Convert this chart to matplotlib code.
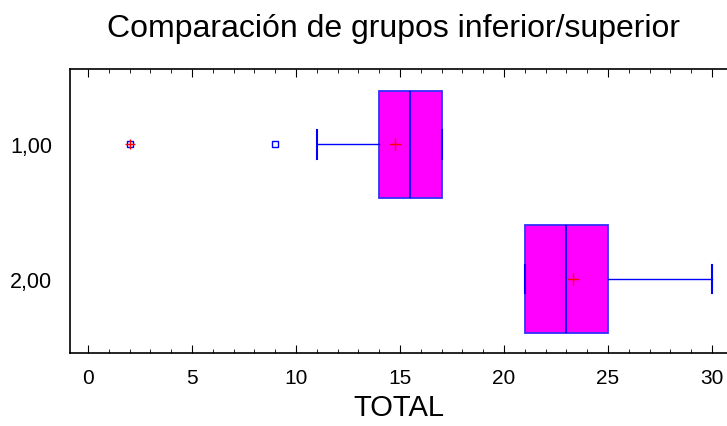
import matplotlib.pyplot as plt
from matplotlib.ticker import MultipleLocator

# box plot summary
groups = ["1,00", "2,00"]
q1 = [14, 21]
medians = [15.5, 23]
q3 = [17, 25]
whisker_lo = [11, 21]
whisker_hi = [17, 30]
means = [14.75, 23.3]
outliers = [[9, 2], []]
far_outliers = [[2], []]

plt.rcParams["font.family"] = ["Liberation Sans", "DejaVu Sans"]

fig = plt.figure(figsize=(7.27, 4.27), dpi=100)
ax = fig.add_axes([70 / 727, 1 - 354 / 427, 657 / 727, 284 / 427])

stats = []
for i, name in enumerate(groups):
    stats.append({
        "label": name,
        "q1": q1[i],
        "med": medians[i],
        "q3": q3[i],
        "whislo": whisker_lo[i],
        "whishi": whisker_hi[i],
        "mean": means[i],
        "fliers": outliers[i],
    })

positions = list(range(1, len(groups) + 1))
ax.bxp(
    stats,
    positions=positions,
    widths=0.8,
    capwidths=0.21,
    orientation="horizontal",
    patch_artist=True,
    showmeans=True,
    boxprops=dict(facecolor="#ff00ff", edgecolor="#3030ff", linewidth=1.3),
    medianprops=dict(color="#0000ff", linewidth=1.3),
    whiskerprops=dict(color="#0000ff", linewidth=1.0),
    capprops=dict(color="#0000ff", linewidth=1.5),
    meanprops=dict(marker="+", markeredgecolor="red", markersize=8, markeredgewidth=1),
    flierprops=dict(marker="s", markerfacecolor="none", markeredgecolor="#0000ff",
                    markersize=5, markeredgewidth=1),
)

# far outliers carry a red plus inside the square
for pos, vals in zip(positions, far_outliers):
    if vals:
        ax.plot(vals, [pos] * len(vals), linestyle="none", marker="+",
                markeredgecolor="red", markersize=7, markeredgewidth=1)

ax.set_xlim(-0.87, 30.72)
ax.set_ylim(2.55, 0.44)
ax.set_yticks(positions)
ax.set_yticklabels(groups)

ax.xaxis.set_major_locator(MultipleLocator(5))
ax.xaxis.set_minor_locator(MultipleLocator(1))
ax.tick_params(axis="x", which="both", direction="in", top=True, labelsize=15, pad=11)
ax.tick_params(axis="x", which="major", length=6)
ax.tick_params(axis="x", which="minor", length=3)
ax.tick_params(axis="y", length=0, labelsize=15.5, pad=13)
ax.spines["right"].set_visible(False)
for s in ["left", "top", "bottom"]:
    ax.spines[s].set_linewidth(1.2)

ax.set_xlabel("TOTAL", fontsize=21, labelpad=4)
fig.text(107 / 727, 1 - 37 / 427, "Comparación de grupos inferior/superior",
         ha="left", va="baseline", fontsize=23)

plt.savefig("out.png", dpi=100)
